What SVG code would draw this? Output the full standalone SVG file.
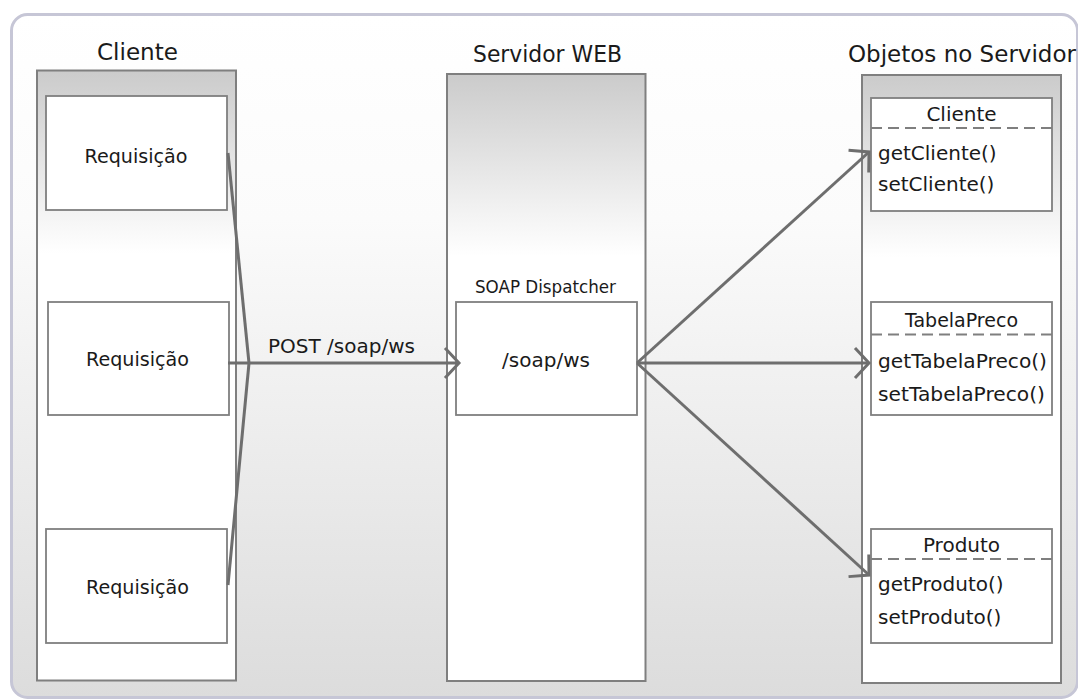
<svg xmlns="http://www.w3.org/2000/svg" width="1078" height="699" viewBox="0 0 1078 699">
  <defs>
    <linearGradient id="bg" x1="0" y1="0" x2="0" y2="1">
      <stop offset="0" stop-color="#ffffff"/>
      <stop offset="0.3" stop-color="#fbfbfb"/>
      <stop offset="1" stop-color="#dcdcdc"/>
    </linearGradient>
    <linearGradient id="col" x1="0" y1="0" x2="0" y2="1">
      <stop offset="0" stop-color="#cbcbcb"/>
      <stop offset="0.3" stop-color="#ffffff"/>
      <stop offset="1" stop-color="#ffffff"/>
    </linearGradient>
    <marker id="arrow" markerUnits="userSpaceOnUse" viewBox="-17 -19 20 38" markerWidth="20" markerHeight="38" refX="0" refY="0" orient="auto">
      <path d="M-14,-15 L0,0 L-14,15" fill="none" stroke="#6e6e6e" stroke-width="3"/>
    </marker>
    <style>
      text { font-family: "DejaVu Sans", Verdana, sans-serif; fill: #1a1a1a; }
      .title { font-size: 23px; text-anchor: middle; }
      .lbl { font-size: 20px; text-anchor: middle; }
      .meth { font-size: 20px; }
      .small { font-size: 17px; text-anchor: middle; }
      .col { fill: url(#col); stroke: #7f7f7f; stroke-width: 2; }
      .box { fill: #ffffff; stroke: #7f7f7f; stroke-width: 1.8; }
      .dash { stroke: #7f7f7f; stroke-width: 1.8; stroke-dasharray: 11 6; fill: none; }
      .conn { stroke: #6e6e6e; stroke-width: 3; fill: none; }
    </style>
  </defs>

  <rect id="background" x="11.5" y="14.5" width="1066" height="683" rx="16" ry="16" fill="url(#bg)" stroke="#c6c6d6" stroke-width="3"/>

  <g id="cliente-col">
    <text class="title" x="137.5" y="60" textLength="81" lengthAdjust="spacingAndGlyphs">Cliente</text>
    <rect class="col" x="37" y="70.5" width="199" height="610"/>
  </g>
  <g id="req1">
    <rect class="box" x="46" y="96" width="181" height="114"/>
    <text class="lbl" x="136" y="163" textLength="103" lengthAdjust="spacingAndGlyphs">Requisição</text>
  </g>
  <g id="req2">
    <rect class="box" x="48" y="302" width="181" height="113"/>
    <text class="lbl" x="137.5" y="366" textLength="103" lengthAdjust="spacingAndGlyphs">Requisição</text>
  </g>
  <g id="req3">
    <rect class="box" x="46" y="529" width="181" height="114"/>
    <text class="lbl" x="137.5" y="594" textLength="103" lengthAdjust="spacingAndGlyphs">Requisição</text>
  </g>

  <g id="servidor-col">
    <text class="title" x="547.5" y="62" textLength="149" lengthAdjust="spacingAndGlyphs">Servidor WEB</text>
    <rect class="col" x="447" y="74" width="198.5" height="607"/>
  </g>
  <g id="dispatcher">
    <text class="small" x="545.5" y="293" textLength="141" lengthAdjust="spacingAndGlyphs">SOAP Dispatcher</text>
    <rect class="box" x="456" y="302" width="181" height="113"/>
    <text class="lbl" x="546" y="367">/soap/ws</text>
  </g>

  <g id="objetos-col">
    <text class="title" x="962" y="62" textLength="228" lengthAdjust="spacingAndGlyphs">Objetos no Servidor</text>
    <rect class="col" x="862" y="75" width="199" height="608"/>
  </g>
  <g id="cls-cliente">
    <rect class="box" x="871" y="98" width="181" height="113"/>
    <line class="dash" x1="871" y1="128" x2="1052" y2="128"/>
    <text class="lbl" x="961.5" y="121">Cliente</text>
    <text class="meth" x="878" y="160">getCliente()</text>
    <text class="meth" x="878" y="191">setCliente()</text>
  </g>
  <g id="cls-tabelapreco">
    <rect class="box" x="871" y="302" width="181" height="113"/>
    <line class="dash" x1="871" y1="334.5" x2="1052" y2="334.5"/>
    <text class="lbl" x="961.5" y="327" style="font-size:19px">TabelaPreco</text>
    <text class="meth" x="878" y="368" textLength="169" lengthAdjust="spacingAndGlyphs">getTabelaPreco()</text>
    <text class="meth" x="878" y="401" textLength="167" lengthAdjust="spacingAndGlyphs">setTabelaPreco()</text>
  </g>
  <g id="cls-produto">
    <rect class="box" x="871" y="529" width="181" height="114"/>
    <line class="dash" x1="871" y1="559" x2="1052" y2="559"/>
    <text class="lbl" x="961.5" y="552">Produto</text>
    <text class="meth" x="878" y="591">getProduto()</text>
    <text class="meth" x="878" y="624">setProduto()</text>
  </g>

  <g id="connectors">
    <path class="conn" d="M228,153 L249,363"/>
    <path class="conn" d="M228,585 L249,363"/>
    <path class="conn" d="M228,363 L459,363" marker-end="url(#arrow)"/>
    <text x="268" y="353" style="font-size:20px">POST /soap/ws</text>
    <path class="conn" d="M637,363 L869,152" marker-end="url(#arrow)"/>
    <path class="conn" d="M637,363 L869,363" marker-end="url(#arrow)"/>
    <path class="conn" d="M637,363 L869,575" marker-end="url(#arrow)"/>
  </g>
</svg>
